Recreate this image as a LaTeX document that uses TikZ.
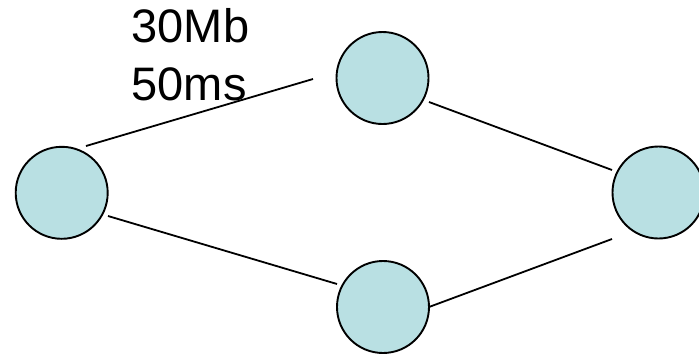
\documentclass[tikz,border=0pt]{standalone}
\usepackage{fontspec}
\setmainfont{Liberation Sans}
\definecolor{nodefill}{RGB}{185,224,227}
\begin{document}
\begin{tikzpicture}[x=1pt,y=-1pt,
  router/.style={circle,draw=black,line width=1.9pt,fill=nodefill,
                 minimum size=92pt,inner sep=0pt},
  link/.style={draw=black,line width=1.8pt},
  lbl/.style={anchor=base west,inner sep=0pt,font=\fontsize{47}{55}\selectfont}]
\useasboundingbox (0,0) rectangle (699,354);
\begin{scope}
\clip (0,0) rectangle (699,354);
% routers
\node[router] (left)   at (61.7,192.8) {};
\node[router] (top)    at (382.5,78)   {};
\node[router] (right)  at (658.5,192.5) {};
\node[router] (bottom) at (383,307)    {};
\end{scope}
% link end points
\coordinate (lt1) at (86,146);   \coordinate (lt2) at (313,79);
\coordinate (lb1) at (108,216);  \coordinate (lb2) at (337,284);
\coordinate (tr1) at (429,102);  \coordinate (tr2) at (612,170);
\coordinate (br1) at (429,307);  \coordinate (br2) at (612,239);
\draw[link] (lt1) -- (lt2);
\draw[link] (lb1) -- (lb2);
\draw[link] (tr1) -- (tr2);
\draw[link] (br1) -- (br2);
% link label
\node[lbl] (bw)  at (131.5,42)  {30Mb};
\node[lbl] (dly) at (131.5,100) {50ms};
\end{tikzpicture}
\end{document}
